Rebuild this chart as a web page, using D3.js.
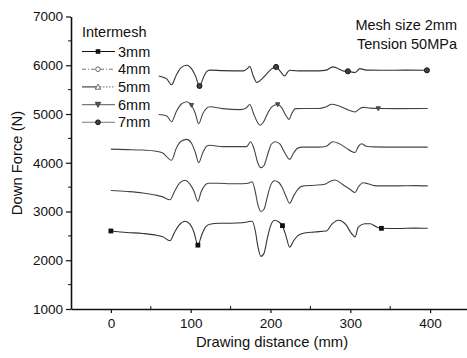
<!DOCTYPE html>
<html>
<head>
<meta charset="utf-8">
<script src="https://cdn.jsdelivr.net/npm/d3@7/dist/d3.min.js"></script>
<style>
  html, body { margin: 0; padding: 0; background: #fff; }
  svg { display: block; font-family: "Liberation Sans", Arial, sans-serif; }
</style>
</head>
<body>
<svg id="chart" width="467" height="358"></svg>
<script>
// Down force vs drawing distance, one trace per intermesh depth
const seriesNames = ["3mm", "4mm", "5mm", "6mm", "7mm"];

const force3mm = [
  [0,2600],[20,2570],[40,2550],[55,2520],[65,2480],[74,2400],[80,2580],[86,2730],[93,2800],[99,2740],
  [104,2580],[109,2310],[114,2530],[119,2690],[124,2740],[135,2760],[150,2760],[165,2770],[172,2790],
  [177,2800],[181,2600],[184,2300],[188,2080],[192,2150],[196,2450],[200,2700],[205,2820],[210,2790],
  [215,2710],[219,2520],[224,2270],[229,2400],[234,2500],[240,2550],[255,2580],[270,2600],[277,2740],
  [285,2820],[295,2720],[301,2560],[306,2480],[310,2680],[318,2750],[325,2750],[332,2690],[339,2655],
  [360,2650],[380,2660],[397,2655]
];
const force4mm = [
  [0,3430],[20,3410],[40,3380],[55,3340],[65,3300],[74,3240],[80,3420],[86,3580],[93,3640],[99,3560],
  [104,3420],[109,3210],[113,3400],[118,3540],[122,3580],[135,3580],[150,3570],[165,3570],[172,3580],
  [177,3610],[181,3400],[184,3150],[188,3000],[192,3050],[196,3300],[200,3530],[205,3630],[210,3600],
  [215,3480],[219,3330],[224,3170],[229,3320],[234,3450],[240,3520],[255,3540],[268,3560],[275,3620],
  [281,3645],[290,3560],[300,3450],[306,3390],[310,3500],[316,3590],[322,3570],[330,3530],[337,3525],
  [360,3525],[380,3530],[397,3525]
];
const force5mm = [
  [0,4280],[20,4270],[40,4260],[55,4240],[65,4200],[76,4050],[82,4300],[88,4440],[95,4480],[101,4400],
  [106,4200],[110,4000],[115,4200],[120,4340],[124,4360],[140,4330],[160,4330],[170,4330],[175,4430],
  [180,4250],[184,4000],[188,3900],[192,3950],[197,4200],[201,4380],[206,4430],[212,4380],[218,4200],
  [224,4070],[229,4200],[234,4300],[240,4320],[260,4320],[270,4340],[278,4430],[285,4400],[295,4300],
  [303,4220],[306,4210],[310,4330],[314,4390],[320,4340],[330,4325],[360,4320],[397,4320]
];
const force6mm = [
  [60,4990],[70,4960],[76,4840],[82,5050],[88,5200],[95,5250],[101,5180],[106,5000],[110,4800],
  [115,5000],[120,5120],[124,5150],[140,5110],[162,5090],[170,5130],[174,5195],[179,5000],[183,4850],
  [187,4770],[191,4830],[196,5000],[202,5150],[209,5195],[214,5130],[219,4980],[223,4890],[227,5020],
  [231,5110],[240,5112],[260,5112],[270,5150],[277,5200],[285,5170],[295,5100],[301,5060],[306,5040],
  [311,5100],[316,5135],[325,5120],[335,5112],[360,5110],[397,5112]
];
const force7mm = [
  [60,5780],[66,5750],[70,5720],[76,5600],[82,5800],[88,5950],[95,6000],[101,5930],[106,5780],
  [111,5575],[116,5750],[120,5870],[124,5900],[140,5890],[166,5884],[171,5930],[174,5980],[178,5800],
  [183,5645],[188,5700],[195,5820],[201,5920],[207,5966],[212,5880],[218,5780],[221,5850],[224,5897],
  [230,5890],[237,5884],[260,5884],[270,5900],[278,5966],[285,5930],[292,5880],[297,5876],[306,5850],
  [312,5930],[320,5900],[340,5897],[370,5900],[396,5897]
];
const seriesData = [force3mm, force4mm, force5mm, force6mm, force7mm];

// distances at which symbols sit on each trace
const markerAt = [[0, 109, 215, 339], [], [], [101, 209, 335], [111, 207, 297, 396]];

const xTicks = [0, 100, 200, 300, 400];
const yTicks = [1000, 2000, 3000, 4000, 5000, 6000, 7000];
const noteLines = ["Mesh size 2mm", "Tension 50MPa"];
const legendTitle = "Intermesh";

const svg = d3.select("#chart");
const x = d3.scaleLinear().domain([-50, 450]).range([71, 470]);
const y = d3.scaleLinear().domain([1000, 7000]).range([309, 16.5]);

// axes
const xAxis = d3.axisBottom(x).tickValues(xTicks).tickFormat(d3.format("d"))
  .tickSize(4).tickSizeOuter(0).tickPadding(5);
const yAxis = d3.axisLeft(y).tickValues(yTicks).tickFormat(d3.format("d"))
  .tickSize(5).tickSizeOuter(0).tickPadding(3);

const gx = svg.append("g").attr("transform", `translate(0,${y(1000)})`).call(xAxis);
const gy = svg.append("g").attr("transform", `translate(${x(-50)},0)`).call(yAxis);
[gx, gy].forEach(g => {
  g.select(".domain").attr("stroke", "#111").attr("stroke-width", 1.6);
  g.selectAll(".tick line").attr("stroke", "#111").attr("stroke-width", 1.2);
  g.selectAll(".tick text").attr("font-size", 13.5).attr("fill", "#111")
    .attr("font-family", "'Liberation Sans', Arial, sans-serif");
});

// minor ticks
const xMinor = d3.range(-50, 451, 50).filter(v => !xTicks.includes(v) && v > -50);
svg.append("g").selectAll("line").data(xMinor).join("line")
  .attr("x1", d => x(d)).attr("x2", d => x(d))
  .attr("y1", y(1000)).attr("y2", y(1000) - 3)
  .attr("stroke", "#111").attr("stroke-width", 1);
const yMinor = d3.range(1500, 7000, 1000);
svg.append("g").selectAll("line").data(yMinor).join("line")
  .attr("x1", x(-50)).attr("x2", x(-50) - 3)
  .attr("y1", d => y(d)).attr("y2", d => y(d))
  .attr("stroke", "#111").attr("stroke-width", 1);

// axis titles
svg.append("text").attr("x", 272).attr("y", 347).attr("text-anchor", "middle")
  .attr("font-size", 14.8).attr("fill", "#111").text("Drawing distance (mm)");
svg.append("text").attr("transform", "translate(22,163) rotate(-90)").attr("text-anchor", "middle")
  .attr("font-size", 14.8).attr("fill", "#111").text("Down Force (N)");

// traces
const line = d3.line().x(d => x(d[0])).y(d => y(d[1])).curve(d3.curveMonotoneX);
svg.append("g").selectAll("path").data(seriesData).join("path")
  .attr("d", line).attr("fill", "none")
  .attr("stroke", (d, i) => i === 0 || i === 4 ? "#333" : "#444")
  .attr("stroke-width", 1.1);

// symbols
function drawSymbol(g, i, cx, cy, s) {
  if (i === 0) {
    g.append("rect").attr("x", cx - s).attr("y", cy - s).attr("width", 2 * s).attr("height", 2 * s)
      .attr("fill", "#111");
  } else if (i === 1) {
    g.append("circle").attr("cx", cx).attr("cy", cy).attr("r", s)
      .attr("fill", "#fff").attr("stroke", "#555").attr("stroke-width", 0.9);
  } else if (i === 2) {
    g.append("path").attr("d", `M${cx},${cy - s * 1.2}L${cx + s * 1.2},${cy + s}L${cx - s * 1.2},${cy + s}Z`)
      .attr("fill", "#fff").attr("stroke", "#555").attr("stroke-width", 0.9);
  } else if (i === 3) {
    g.append("path").attr("d", `M${cx - s * 1.2},${cy - s}L${cx + s * 1.2},${cy - s}L${cx},${cy + s * 1.2}Z`)
      .attr("fill", "#555").attr("stroke", "#333").attr("stroke-width", 0.8);
  } else {
    g.append("circle").attr("cx", cx).attr("cy", cy).attr("r", s * 1.05)
      .attr("fill", "#444").attr("stroke", "#111").attr("stroke-width", 1);
  }
}

const gm = svg.append("g");
markerAt.forEach((xs, i) => {
  xs.forEach(xv => {
    const p = seriesData[i].find(d => d[0] === xv);
    if (p) drawSymbol(gm, i, x(p[0]), y(p[1]), i === 3 ? 1.8 : 2.4);
  });
});

// legend
const lg = svg.append("g");
lg.append("text").attr("x", 82).attr("y", 37).attr("font-size", 14.5).attr("fill", "#111").text(legendTitle);
const legendDash = [null, "4,2,1,2", "1.5,1.5", null, null];
const legendColor = ["#111", "#777", "#555", "#777", "#777"];
seriesNames.forEach((name, i) => {
  const ly = 51.5 + i * 17.7;
  if (i === 2) {
    lg.append("line").attr("x1", 82).attr("x2", 96).attr("y1", ly).attr("y2", ly)
      .attr("stroke", "#333").attr("stroke-width", 1.1);
    lg.append("line").attr("x1", 100).attr("x2", 115).attr("y1", ly).attr("y2", ly)
      .attr("stroke", "#888").attr("stroke-width", 1.1).attr("stroke-dasharray", "1.5,1.5");
  } else {
    lg.append("line").attr("x1", 82).attr("x2", 115).attr("y1", ly).attr("y2", ly)
      .attr("stroke", legendColor[i]).attr("stroke-width", 1.1)
      .attr("stroke-dasharray", legendDash[i]);
  }
  drawSymbol(lg, i, 98, ly, 2.3);
  lg.append("text").attr("x", 118).attr("y", ly + 5).attr("font-size", 14.5).attr("fill", "#111").text(name);
});

// annotation
svg.append("g").selectAll("text").data(noteLines).join("text")
  .attr("x", 457).attr("y", (d, i) => 30 + i * 18.5).attr("text-anchor", "end")
  .attr("font-size", 14.5).attr("fill", "#111").text(d => d);
</script>
</body>
</html>
